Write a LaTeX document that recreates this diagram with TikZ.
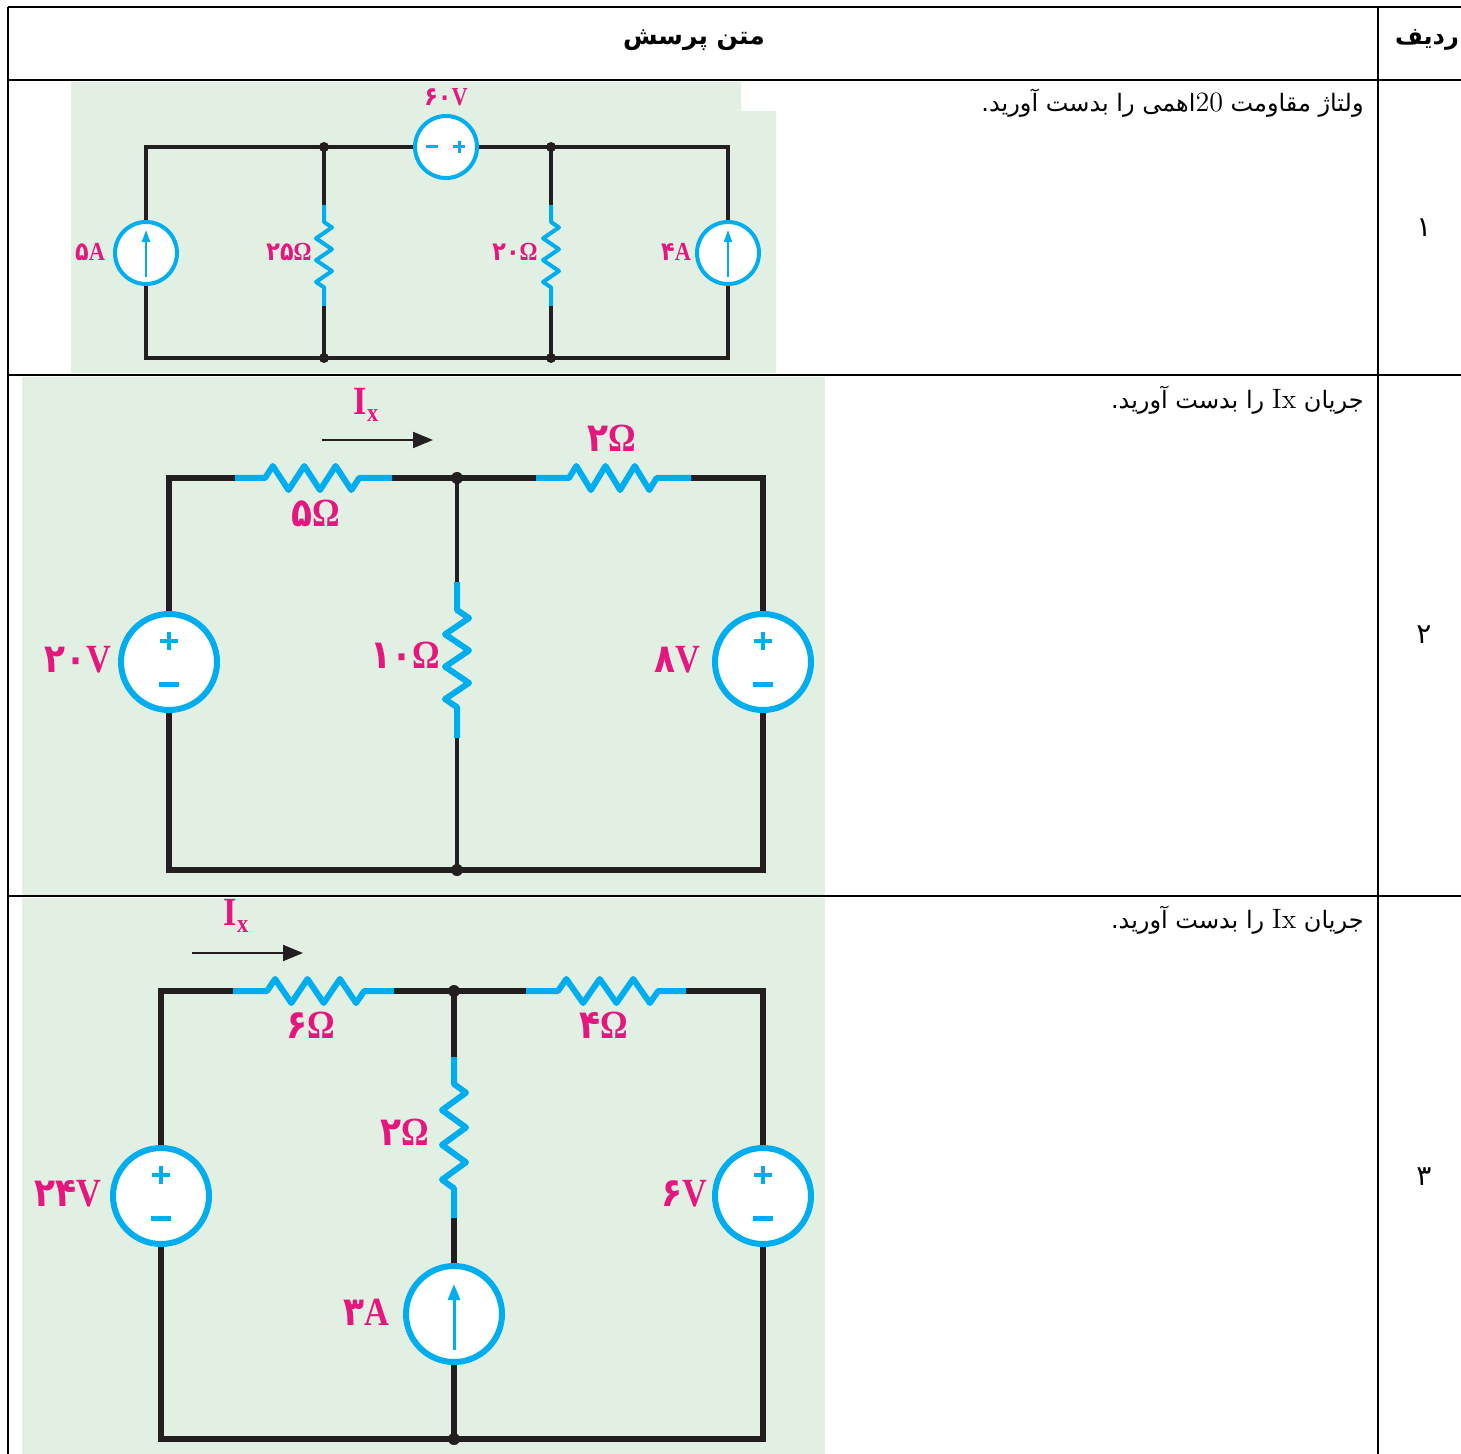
\documentclass[tikz,border=0pt]{standalone}
\usepackage{fontspec}
\usepackage{xcolor}
\usepackage{tikz}
\usetikzlibrary{arrows.meta,decorations.pathmorphing}
\newfontfamily\fa[Script=Arabic]{DejaVu Sans}
\newfontfamily\lab{Liberation Serif}
\TeXXeTstate=1
\definecolor{cgreen}{HTML}{E2F0E4}
\definecolor{cblue}{HTML}{00AEEF}
\definecolor{cpink}{HTML}{E5177E}
\definecolor{cwire}{HTML}{231F20}

\begin{document}
\begin{tikzpicture}[x=0.5pt,y=-0.5pt,
    grid/.style={draw=black, line width=1pt},
    bg/.style={fill=cgreen},
    wire/.style={draw=cwire, line width=3pt},
    res/.style={draw=cblue, line width=3pt, line join=round, decorate,
        decoration={zigzag, amplitude=6pt}},
    zz/.style n args={3}{decoration={pre length=#1, post length=#2, segment length=#3}},
    src/.style={circle, draw=cblue, fill=white, line width=3pt, minimum size=48pt, inner sep=0pt},
    sgn/.style={draw=cblue, line width=2pt},
    tip/.style={draw=cblue, line width=1.5pt, -{Triangle[length=8pt,width=6pt]}},
    ix/.style={draw=cwire, line width=1pt, -{Triangle[length=10pt,width=8pt]}},
    lbl/.style={text=cpink, inner sep=0pt, font=\lab\bfseries\fontsize{20}{20}\selectfont},
    lbls/.style={lbl, font=\lab\bfseries\fontsize{13}{13}\selectfont},
    jn/.style={fill=cwire},
    txt/.style={inner sep=0pt, font=\fa\fontsize{12}{14}\selectfont}
]
    \fill[white] (0,0) rectangle (1461,1454);
    \useasboundingbox (0,0) rectangle (1461,1454);

    % row 1
    \fill[bg] (71,82) -- (741,82) -- (741,111) -- (776,111) -- (776,373) -- (71,373) -- cycle;
    \coordinate (a1) at (324,147);
    \coordinate (a2) at (551,147);
    \coordinate (b1) at (324,358);
    \coordinate (b2) at (551,358);
    \coordinate (r25a) at (324,205);
    \coordinate (r25b) at (324,306);
    \coordinate (r20a) at (551,205);
    \coordinate (r20b) at (551,306);
    \node[src, line width=2pt, minimum size=31pt] (i5) at (146,253) {};
    \node[src, line width=2pt, minimum size=31pt] (i4) at (728,253) {};
    \node[src, line width=2pt, minimum size=31pt] (v60) at (446,147) {};
    \draw[wire, line width=2pt] (i5.north) |- (v60.west);
    \draw[wire, line width=2pt] (v60.east) -| (i4.north);
    \draw[wire, line width=2pt] (i5.south) |- (b1) -- (b2) -| (i4.south);
    \draw[wire, line width=2pt] (a1) -- (r25a) (r25b) -- (b1) (a2) -- (r20a) (r20b) -- (b2);
    \draw[res, line width=2pt, decoration={amplitude=4pt}, zz={8.5pt}{9pt}{10.9pt}] (r25a) -- (r25b);
    \draw[res, line width=2pt, decoration={amplitude=4pt}, zz={8.5pt}{9pt}{10.9pt}] (r20a) -- (r20b);
    \foreach \p in {a1,a2,b1,b2} \fill[jn] (\p) circle (2.5pt);
    \draw[tip, line width=1pt, -{Triangle[length=6pt,width=4pt]}] (i5) ++(0,24) -- ++(0,-47);
    \draw[tip, line width=1pt, -{Triangle[length=6pt,width=4pt]}] (i4) ++(0,24) -- ++(0,-47);
    \draw[sgn, line width=1.5pt] (v60) ++(-20,0) -- ++(12,0) (v60) ++(7,0) -- ++(12,0)
        (v60) ++(13,-6) -- ++(0,12);
    \node[lbls] (l60v) at (446,97) {\scalebox{0.86}[1]{{\fa\bfseries ۶۰}V}};
    \node[lbls] (l5a) at (90,252) {\scalebox{0.86}[1]{{\fa\bfseries ۵}A}};
    \node[lbls] (l25) at (289,252) {\scalebox{0.86}[1]{{\fa\bfseries ۲۵}Ω}};
    \node[lbls] (l20) at (515,252) {\scalebox{0.86}[1]{{\fa\bfseries ۲۰}Ω}};
    \node[lbls] (l4a) at (676,252) {\scalebox{0.86}[1]{{\fa\bfseries ۴}A}};

    % row 2
    \fill[bg] (22,377) rectangle (825,895);
    \coordinate (c2m) at (457,478);
    \coordinate (c2bm) at (457,870);
    \coordinate (c2br) at (763,870);
    \coordinate (r5a) at (235,478);
    \coordinate (r5b) at (392,478);
    \coordinate (r2a) at (536,478);
    \coordinate (r2b) at (691,478);
    \coordinate (r10a) at (457,582);
    \coordinate (r10b) at (457,738);
    \node[src] (v20) at (169,662) {};
    \node[src] (v8) at (763,662) {};
    \draw[wire] (v20.north) |- (r5a);
    \draw[wire] (r5b) -- (r2a);
    \draw[wire] (r2b) -| (v8.north);
    \draw[wire] (v20.south) |- (c2bm) -- (c2br) -- (v8.south);
    \draw[wire, line width=2pt] (c2m) -- (r10a) (r10b) -- (c2bm);
    \draw[res, zz={15pt}{16pt}{15.7pt}] (r5a) -- (r5b);
    \draw[res, zz={16.5pt}{17pt}{14.6pt}] (r2a) -- (r2b);
    \draw[res, zz={14pt}{15pt}{16.2pt}] (r10a) -- (r10b);
    \foreach \p in {c2m,c2bm} \fill[jn] (\p) circle (3pt);
    \foreach \v in {v20,v8} {
        \draw[sgn] (\v) ++(-9,-21) -- ++(18,0) (\v) ++(0,-30) -- ++(0,18);
        \draw[sgn, line width=2.5pt] (\v) ++(-10,22) -- ++(20,0);
    }
    \coordinate (ix1a) at (322,440);
    \coordinate (ix1b) at (433,440);
    \draw[ix] (ix1a) -- (ix1b);
    \node[lbl] (lix1) at (366,405) {\scalebox{0.86}[1]{I\raisebox{-0.35ex}{\fontsize{13}{13}\selectfont x}}};
    \node[lbl] (l5) at (316,513) {\scalebox{0.86}[1]{{\fa\bfseries ۵}Ω}};
    \node[lbl] (l2) at (612,438) {\scalebox{0.86}[1]{{\fa\bfseries ۲}Ω}};
    \node[lbl] (l10) at (405,655) {\scalebox{0.86}[1]{{\fa\bfseries ۱۰}Ω}};
    \node[lbl] (l20v) at (78,660) {\scalebox{0.86}[1]{{\fa\bfseries ۲۰}V}};
    \node[lbl] (l8v) at (677,660) {\scalebox{0.86}[1]{{\fa\bfseries ۸}V}};

    % row 3
    \fill[bg] (22,898) rectangle (825,1454);
    \coordinate (c3m) at (454,991);
    \coordinate (c3bm) at (454,1439);
    \coordinate (c3br) at (763,1439);
    \coordinate (r6a) at (233,991);
    \coordinate (r6b) at (394,991);
    \coordinate (r4a) at (526,991);
    \coordinate (r4b) at (686,991);
    \coordinate (r2ma) at (454,1057);
    \coordinate (r2mb) at (454,1218);
    \node[src] (v24) at (161,1196) {};
    \node[src] (v6) at (763,1196) {};
    \node[src] (i3) at (454,1314) {};
    \draw[wire] (v24.north) |- (r6a);
    \draw[wire] (r6b) -- (r4a);
    \draw[wire] (r4b) -| (v6.north);
    \draw[wire] (v24.south) |- (c3bm) -- (c3br) -- (v6.south);
    \draw[wire] (c3m) -- (r2ma) (r2mb) -- (i3.north) (i3.south) -- (c3bm);
    \draw[res, zz={17pt}{14.5pt}{16.2pt}] (r6a) -- (r6b);
    \draw[res, zz={16pt}{13.5pt}{16.7pt}] (r4a) -- (r4b);
    \draw[res, zz={13.5pt}{14.5pt}{17.4pt}] (r2ma) -- (r2mb);
    \foreach \p in {c3m,c3bm} \fill[jn] (\p) circle (3pt);
    \foreach \v in {v24,v6} {
        \draw[sgn] (\v) ++(-9,-21) -- ++(18,0) (\v) ++(0,-30) -- ++(0,18);
        \draw[sgn, line width=2.5pt] (\v) ++(-10,22) -- ++(20,0);
    }
    \draw[tip] (i3) ++(0,36) -- ++(0,-66);
    \coordinate (ix2a) at (192,953);
    \coordinate (ix2b) at (303,953);
    \draw[ix] (ix2a) -- (ix2b);
    \node[lbl] (lix2) at (236,916) {\scalebox{0.86}[1]{I\raisebox{-0.35ex}{\fontsize{13}{13}\selectfont x}}};
    \node[lbl] (l6) at (311,1025) {\scalebox{0.86}[1]{{\fa\bfseries ۶}Ω}};
    \node[lbl] (l4) at (604,1025) {\scalebox{0.86}[1]{{\fa\bfseries ۴}Ω}};
    \node[lbl] (l2m) at (405,1132) {\scalebox{0.86}[1]{{\fa\bfseries ۲}Ω}};
    \node[lbl] (l24v) at (68,1194) {\scalebox{0.86}[1]{{\fa\bfseries ۲۴}V}};
    \node[lbl] (l6v) at (684,1194) {\scalebox{0.86}[1]{{\fa\bfseries ۶}V}};
    \node[lbl] (l3a) at (366,1312) {\scalebox{0.86}[1]{{\fa\bfseries ۳}A}};

    % table
    \draw[grid] (8,7) -- (1461,7) (8,80) -- (1461,80) (8,375) -- (1461,375) (8,896) -- (1461,896);
    \draw[grid] (8,7) -- (8,1454) (1378,7) -- (1378,1454);
    \node[txt, font=\fa\bfseries\fontsize{12.5}{14}\selectfont] (head) at (694,40) {\beginR متن پرسش\endR};
    \node[txt, font=\fa\bfseries\fontsize{12}{14}\selectfont] (headn) at (1427,40) {\beginR ردیف\endR};
    \node[txt, anchor=east] (q1) at (1364,103)
        {\beginR ولتاژ مقاومت \beginL{\rmfamily\fontsize{14}{14}\selectfont 20}\endL{}اهمی را بدست آورید.\endR};
    \node[txt, anchor=east] (q2) at (1364,400)
        {\beginR جریان \beginL{\rmfamily\fontsize{14}{14}\selectfont Ix}\endL{} را بدست آورید.\endR};
    \node[txt, anchor=east] (q3) at (1364,920)
        {\beginR جریان \beginL{\rmfamily\fontsize{14}{14}\selectfont Ix}\endL{} را بدست آورید.\endR};
    \node[txt, font=\fa\fontsize{14}{16}\selectfont] (n1) at (1424,228) {۱};
    \node[txt, font=\fa\fontsize{14}{16}\selectfont] (n2) at (1424,635) {۲};
    \node[txt, font=\fa\fontsize{14}{16}\selectfont] (n3) at (1424,1177) {۳};
\end{tikzpicture}
\end{document}
